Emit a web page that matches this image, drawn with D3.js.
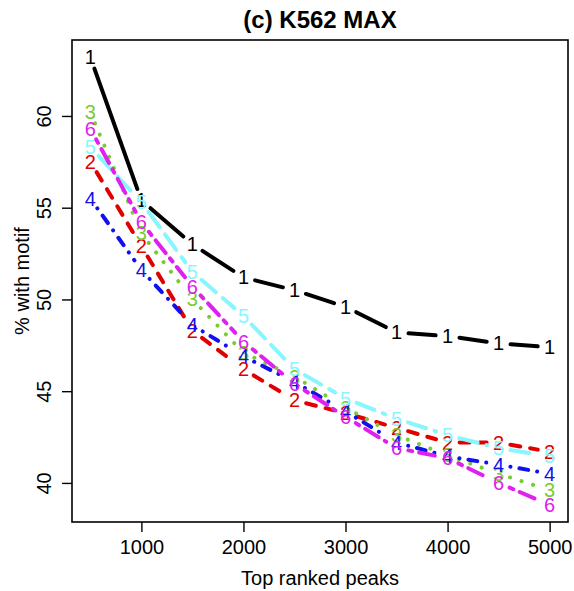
<!DOCTYPE html>
<html>
<head>
<meta charset="utf-8">
<script src="https://cdn.jsdelivr.net/npm/d3@7"></script>
<style>
  body { margin: 0; background: #fff; }
  text { font-family: "Liberation Sans", Arial, sans-serif; }
</style>
</head>
<body>
<div id="chart"></div>
<script>
// top ranked peaks on the x axis
var peaks = [500, 1000, 1500, 2000, 2500, 3000, 3500, 4000, 4500, 5000];

// % with motif, one array per method
var method1 = [63.2, 55.4, 53.0, 51.2, 50.5, 49.6, 48.2, 48.0, 47.6, 47.4];
var method2 = [57.5, 52.9, 48.3, 46.2, 44.5, 43.8, 43.0, 42.2, 42.2, 41.7];
var method3 = [60.2, 53.6, 50.0, 47.1, 45.8, 44.1, 42.6, 41.5, 40.5, 39.6];
var method4 = [55.5, 51.6, 48.6, 46.9, 45.5, 43.9, 42.2, 41.45, 41.0, 40.5];
var method5 = [58.3, 55.3, 51.5, 49.1, 46.2, 44.6, 43.5, 42.6, 41.9, 41.45];
var method6 = [59.3, 54.2, 50.7, 47.7, 45.4, 43.6, 41.9, 41.35, 40.0, 38.8];

var seriesNames = ["1", "2", "3", "4", "5", "6"];
var seriesValues = [method1, method2, method3, method4, method5, method6];
var xTicks = [1000, 2000, 3000, 4000, 5000];
var yTicks = [40, 45, 50, 55, 60];

// R-ish line colours and lty patterns
var colors = ["#000000", "#e00000", "#77cc33", "#1010f0", "#88f6ff", "#e020ee"];
var dashes = [null, "10,10", "0.1,12", "0.1,9,9,9", "19,9", "4,7,16,7"];

////////////////basic layout//////////////////
var W = 574, H = 591;
var box = {left: 72, right: 568, top: 40, bottom: 522};

var svg = d3.select("#chart")
  .append("svg")
    .attr("width", W)
    .attr("height", H);

var x = d3.scaleLinear()
    .domain([320, 5180])
    .range([box.left, box.right]);

var y = d3.scaleLinear()
    .domain([37.87, 64.14])
    .range([box.bottom, box.top]);

// X axis
var xAxis = svg.append("g")
    .attr("transform", "translate(0," + box.bottom + ")")
    .call(d3.axisBottom(x).tickValues(xTicks).tickSize(10).tickPadding(8).tickFormat(d3.format("d")));
xAxis.select(".domain").remove();
xAxis.selectAll("line").attr("stroke", "#000").attr("stroke-width", 1.4);
xAxis.selectAll("text").attr("font-size", "20px").attr("fill", "#000")
    .style("font-family", "'Liberation Sans', Arial, sans-serif");

// Y axis
var yAxis = svg.append("g")
    .attr("transform", "translate(" + box.left + ",0)")
    .call(d3.axisLeft(y).tickValues(yTicks).tickSize(10).tickFormat(d3.format("d")));
yAxis.select(".domain").remove();
yAxis.selectAll("line").attr("stroke", "#000").attr("stroke-width", 1.4);
// R draws y tick labels parallel to the axis
yAxis.selectAll("text")
    .attr("x", null).attr("dy", null)
    .attr("transform", "translate(-28,0) rotate(-90)")
    .attr("text-anchor", "middle")
    .attr("dominant-baseline", "central")
    .attr("font-size", "20px").attr("fill", "#000")
    .style("font-family", "'Liberation Sans', Arial, sans-serif");

// plot frame
svg.append("rect")
    .attr("x", box.left).attr("y", box.top)
    .attr("width", box.right - box.left)
    .attr("height", box.bottom - box.top)
    .attr("fill", "none")
    .attr("stroke", "#000")
    .attr("stroke-width", 1.6);

// type="b": segments with a gap round each plotted digit
var GAP = 12;
seriesValues.forEach(function(vals, s) {
    var g = svg.append("g");
    for (var i = 0; i < peaks.length - 1; i++) {
        var x0 = x(peaks[i]), y0 = y(vals[i]);
        var x1 = x(peaks[i + 1]), y1 = y(vals[i + 1]);
        var dx = x1 - x0, dy = y1 - y0;
        var len = Math.sqrt(dx * dx + dy * dy);
        if (len <= 2 * GAP) continue;
        var ux = dx / len, uy = dy / len;
        var seg = g.append("line")
            .attr("x1", x0 + ux * GAP).attr("y1", y0 + uy * GAP)
            .attr("x2", x1 - ux * GAP).attr("y2", y1 - uy * GAP)
            .attr("stroke", colors[s])
            .attr("stroke-width", 4)
            .attr("stroke-linecap", "round");
        if (dashes[s]) seg.attr("stroke-dasharray", dashes[s]);
    }
    g.selectAll("text")
        .data(vals)
        .enter()
        .append("text")
        .attr("x", function(d, i) { return x(peaks[i]); })
        .attr("y", function(d) { return y(d); })
        .attr("text-anchor", "middle")
        .attr("dominant-baseline", "central")
        .attr("font-size", "20px")
        .attr("fill", colors[s])
        .text(seriesNames[s]);
});

// title
svg.append("text")
    .attr("x", (box.left + box.right) / 2)
    .attr("y", 28)
    .attr("text-anchor", "middle")
    .attr("font-size", "24px")
    .attr("font-weight", "bold")
    .text("(c) K562 MAX");

// axis titles
svg.append("text")
    .attr("x", (box.left + box.right) / 2)
    .attr("y", 585)
    .attr("text-anchor", "middle")
    .attr("font-size", "20px")
    .text("Top ranked peaks");

svg.append("text")
    .attr("transform", "translate(22," + ((box.top + box.bottom) / 2) + ") rotate(-90)")
    .attr("text-anchor", "middle")
    .attr("dominant-baseline", "central")
    .attr("font-size", "20px")
    .text("% with motif");
</script>
</body>
</html>
